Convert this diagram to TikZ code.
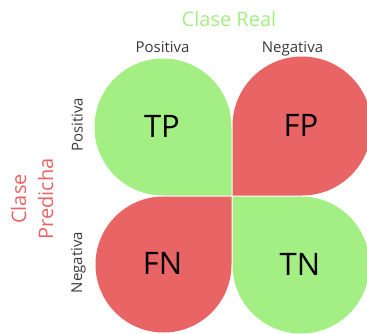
\documentclass[tikz,border=0pt]{standalone}
\usepackage{fontspec}
\setmainfont{Open Sans}
\definecolor{cgreen}{HTML}{A3EF83}
\definecolor{cred}{HTML}{E96464}
\definecolor{ctext}{HTML}{3A3A3A}
\begin{document}
\begin{tikzpicture}[x=1pt,y=1pt,
  lbl/.style={font=\fontsize{15}{18}\selectfont, text=ctext, inner sep=0pt, anchor=base},
  cell/.style={font=\fontsize{31}{36}\selectfont, text=black, inner sep=0pt},
  title/.style={font=\fontsize{20}{24}\selectfont, inner sep=0pt, anchor=base}]
\useasboundingbox (0,0) rectangle (367,333);
% quadrants
\fill[cgreen] (231.5,137.5) -- (231.5,206) arc[start angle=0,end angle=270,radius=68.5pt] -- cycle;
\fill[cred] (232.5,137.5) -- (302,137.5) arc[start angle=-90,end angle=180,radius=69.5pt] -- cycle;
\fill[cred] (231.5,136.5) -- (163.5,136.5) arc[start angle=90,end angle=360,radius=68pt] -- cycle;
\fill[cgreen] (232.5,136.5) -- (232.5,68) arc[start angle=180,end angle=450,radius=68.5pt] -- cycle;
% cell labels
\node[cell] (tp) at (162,207) {TP};
\node[cell] (fp) at (301,207.5) {FP};
\node[cell] (fn) at (162.5,69.5) {FN};
\node[cell] (tn) at (300,69) {TN};
% headers
\node[title, text=cgreen] (real) at (229,307) {Clase Real};
\node[lbl] (cpos) at (162.5,280) {Positiva};
\node[lbl] (cneg) at (292.5,280) {Negativa};
\node[lbl, rotate=90] (rpos) at (82.5,208) {Positiva};
\node[lbl, rotate=90] (rneg) at (82,70.5) {Negativa};
\node[title, text=cred, rotate=90] (pred1) at (26,134) {Clase};
\node[title, text=cred, rotate=90] (pred2) at (53,134.2) {Predicha};
\end{tikzpicture}
\end{document}
